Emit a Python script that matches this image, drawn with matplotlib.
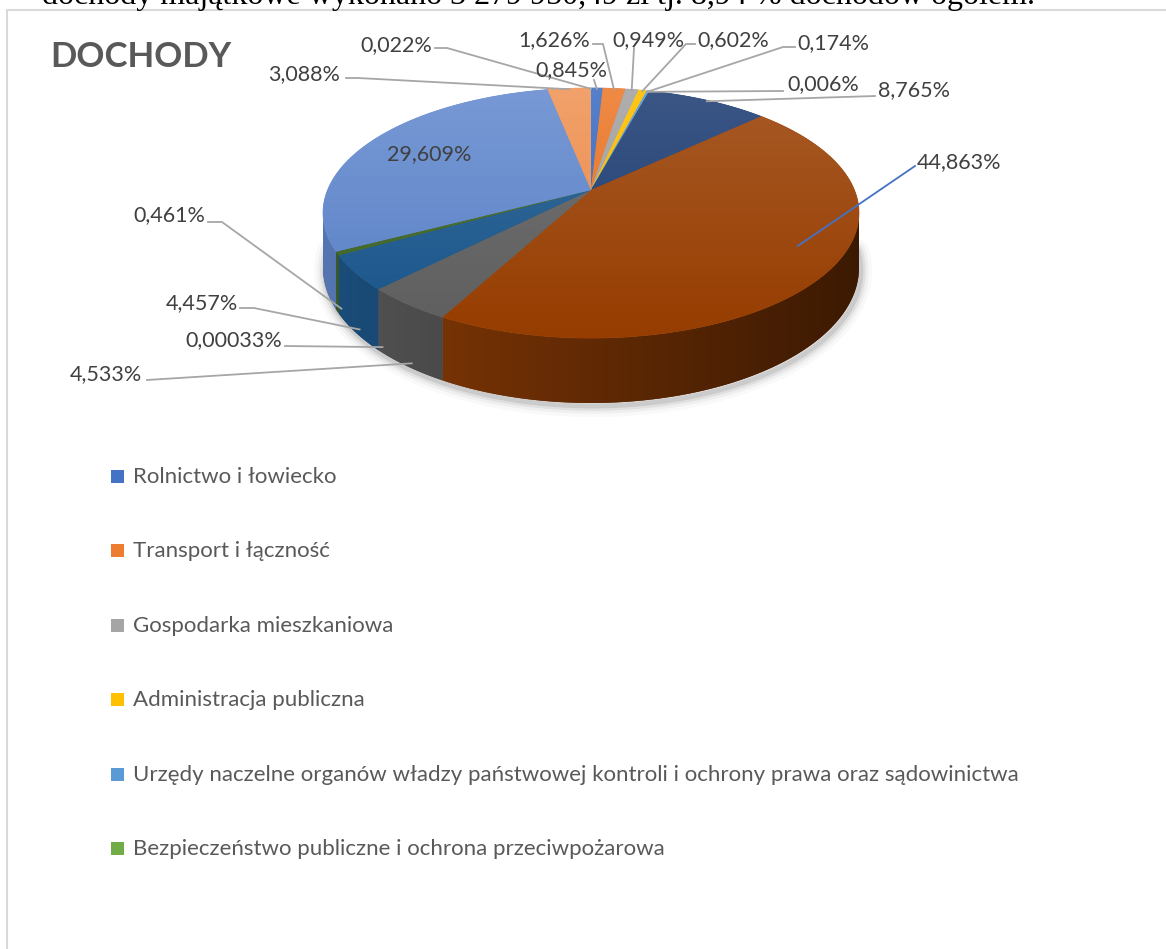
import colorsys
import numpy as np
import matplotlib.pyplot as plt
from matplotlib.patches import Polygon, Rectangle
from matplotlib.colors import to_rgb

plt.rcParams["font.family"] = ["Lato", "DejaVu Sans"]

# --- data ---
categories = [
    "Rolnictwo i łowiecko",
    "Transport i łączność",
    "Gospodarka mieszkaniowa",
    "Administracja publiczna",
    "Urzędy naczelne organów władzy państwowej kontroli i ochrony prawa oraz sądowinictwa",
    "Bezpieczeństwo publiczne i ochrona przeciwpożarowa",
]
shares = [0.845, 1.626, 0.949, 0.602, 0.174, 0.006,
          8.765, 44.863, 4.533, 0.00033, 4.457, 0.461,
          29.609, 3.088, 0.022]
base_colors = ["#4472C4", "#ED7D31", "#A5A5A5", "#FFC000", "#5B9BD5", "#70AD47"]
dark_colors = ["#264478", "#9E480E", "#636363", "#997300", "#255E91", "#43682B"]
light_colors = ["#698ED0", "#F1975A", "#B7B7B7", "#FFCD33", "#7CAFDD", "#8CC168"]
slice_colors = (base_colors + dark_colors + light_colors)[:len(shares)]

# --- layout (pixels) ---
W, H = 1166, 949
CX, CY = 591, 190          # apex of the pie
K, KS, P = 263.4, 120.8, 0.184   # perspective of the top face
T = 53                      # thickness of the pie

# label text anchor (left x, centre y); None = inside the slice
label_xy = [(535, 70), (518, 40), (612, 40), (697, 40), (797, 43), (787, 84),
            (878, 90), (917, 162), (70, 374), (185, 340), (166, 303), (133, 215),
            None, (268, 74), (360, 45)]
# leader points from the label towards the slice
leader_pts = [[(594, 80)], [(593, 44), (603, 44)], [(634, 48)], [(695, 44), (686, 44)],
              [(795, 47), (783, 47)], [(783, 91)], [(875, 96)], [(915, 166)],
              [(147, 380)], [(285, 346)], [(240, 308), (254, 308)], [(208, 222), (222, 222)],
              None, [(346, 78), (358, 78)], [(435, 48), (447, 48)]]


def proj(phi, r=1.0, drop=0.0):
    u, v = r * np.cos(phi), r * np.sin(phi)
    d = 1 + P * v
    return CX + K * u / d, CY - KS * v / d + drop / d


def shade(c, f):
    return tuple(min(1, max(0, x * f)) for x in to_rgb(c))


def lighten(c, f):
    return tuple(x + (1 - x) * f for x in to_rgb(c))


def deepen(c, sat=1.12, val=0.95):
    h, s, v = colorsys.rgb_to_hsv(*to_rgb(c))
    return colorsys.hsv_to_rgb(h, min(1, s * sat), v * val)


fig = plt.figure(figsize=(W / 100, H / 100), dpi=100)
ax = fig.add_axes([0, 0, 1, 1])
ax.set_xlim(0, W)
ax.set_ylim(H, 0)
ax.axis("off")

# text of the document above the chart (cut off)
ax.text(42, 4, "dochody majątkowe wykonano 3 279 950,49 zł tj. 8,94 % dochodów ogółem.",
        fontsize=23, family="Liberation Serif", va="baseline", ha="left", color="black")

# chart frame
ax.plot([7, 7, W + 5], [H + 5, 10, 10], color="#D9D9D9", lw=1.5, zorder=0)

ax.text(50, 57, "DOCHODY", fontsize=25, fontweight="bold", color="#595959",
        va="center", ha="left")

# slice angles: start at 12 o'clock, clockwise
cum = np.concatenate([[0], np.cumsum(shares)])
a_start = np.radians(90 - 3.6 * cum[:-1])
a_end = np.radians(90 - 3.6 * cum[1:])
a_mid = (a_start + a_end) / 2

# soft shadow under the pie
phis = np.radians(np.linspace(-178, -2, 200))
bx, by = proj(phis, drop=T)
for lw, al in [(16, 0.025), (11, 0.04), (7, 0.06), (3.5, 0.09)]:
    ax.plot(bx + 2, by + 3, color="black", alpha=al, lw=lw, solid_capstyle="round", zorder=1)

# side wall (visible part only), lit from the left
vis_lo, vis_hi = -np.pi + np.arcsin(P), -np.arcsin(P)
xl, xr = CX - K / np.sqrt(1 - P ** 2), CX + K / np.sqrt(1 - P ** 2)
fx = np.linspace(0.85, 0.38, 200)
for i, c in enumerate(slice_colors):
    lo, hi = max(a_end[i], vis_lo), min(a_start[i], vis_hi)
    if lo >= hi:
        continue
    arc = np.linspace(lo, hi, max(3, int(np.degrees(hi - lo)) + 3))
    tx_, ty_ = proj(arc)
    bx_, by_ = proj(arc[::-1], drop=T)
    pts = list(zip(tx_, ty_)) + list(zip(bx_, by_))
    ax.add_patch(Polygon(pts, closed=True, facecolor=shade(c, 0.6), edgecolor="none", zorder=2))
    clip = Polygon(pts, closed=True, facecolor="none", edgecolor="none")
    ax.add_patch(clip)
    grad = np.array([deepen(shade(c, f), 1.05, 1.0) for f in fx])[None, :, :]
    im = ax.imshow(grad, extent=(xl, xr, 420, 180), aspect="auto", zorder=2.5,
                   interpolation="bilinear")
    im.set_clip_path(clip)

# top faces with a vertical gradient
for i, c in enumerate(slice_colors):
    arc = np.linspace(a_start[i], a_end[i], max(3, int(abs(np.degrees(a_end[i] - a_start[i]))) + 3))
    ax_, ay_ = proj(arc)
    pts = [(CX, CY)] + list(zip(ax_, ay_))
    ax.add_patch(Polygon(pts, closed=True, facecolor=c, edgecolor=c, lw=0.5, zorder=3))
    clip = Polygon(pts, closed=True, facecolor="none", edgecolor="none", zorder=3)
    ax.add_patch(clip)
    tt = np.linspace(0, 1, 120)[:, None]
    top, bot = np.array(lighten(c, 0.1)), np.array(deepen(c))
    grad = (top[None, :] * (1 - tt) + bot[None, :] * tt)[:, None, :]
    im = ax.imshow(grad, extent=(320, 862, 340, 86), aspect="auto", zorder=4,
                   interpolation="bilinear")
    im.set_clip_path(clip)
ax.set_xlim(0, W)
ax.set_ylim(H, 0)

# data labels
for i, v in enumerate(shares):
    txt = (f"{v:.3f}" if v >= 0.001 else f"{v:.5f}").replace(".", ",") + "%"
    if label_xy[i] is None:
        x, y = proj(a_mid[i], r=0.72)
        ax.text(x, y, txt, fontsize=15.5, color="#404040", ha="center", va="center", zorder=6)
        continue
    lx, ly = label_xy[i]
    ax.text(lx, ly, txt, fontsize=15.5, color="#404040", ha="left", va="center", zorder=6)
    if i == 7:
        tx, ty = proj(a_mid[i] + 0.12, r=0.84)
        lc = "#4472C4"
    elif 8 <= i <= 11:
        tx, ty = proj(a_mid[i], r=1.0, drop=T * 0.95)
        tx += 4
        lc = "#A6A6A6"
    else:
        tx, ty = proj(a_mid[i], r=0.99)
        lc = "#A6A6A6"
    pts = leader_pts[i] + [(tx, ty)]
    ax.plot([p[0] for p in pts], [p[1] for p in pts], color=lc, lw=1.3, zorder=5)

# legend (first six categories)
for j, (name, c) in enumerate(zip(categories, base_colors)):
    y = 477 + j * 74.4
    ax.add_patch(Rectangle((111, y - 7), 13, 13, facecolor=c, edgecolor="none", zorder=6))
    ax.text(133, y, name, fontsize=16, color="#595959", ha="left", va="center", zorder=6)

fig.savefig("out.png", dpi=100, facecolor="white")
